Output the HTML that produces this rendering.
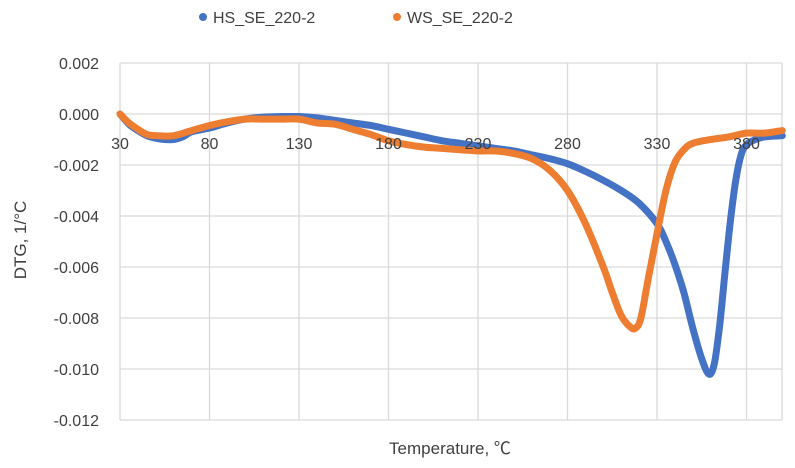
<!DOCTYPE html>
<html><head><meta charset="utf-8"><style>
body{margin:0;background:#fff;}
svg{display:block;font-family:"Liberation Sans","Noto Sans CJK SC",sans-serif;}
</style></head><body>
<svg id="chart" width="795" height="468">
<g id="grid"></g>
<g id="ylab"></g>
<g id="xlab"></g>
<g id="series"></g>
<g>
<circle cx="203" cy="17" r="4" fill="#4472C4"/>
<text x="213" y="23" font-size="16" fill="#404040">HS_SE_220-2</text>
<circle cx="397" cy="17" r="4" fill="#ED7D31"/>
<text x="407" y="23" font-size="16" fill="#404040">WS_SE_220-2</text>
</g>
<text transform="translate(26,240) rotate(-90)" text-anchor="middle" font-size="17" fill="#404040">DTG, 1/°C</text>
<text x="450" y="454" text-anchor="middle" font-size="17" fill="#404040">Temperature, ℃</text>
</svg>
<script>
const xTicks=[30,80,130,180,230,280,330,380];
const yTicks=[0.002,0,-0.002,-0.004,-0.006,-0.008,-0.010,-0.012];
const yTickLabels=["0.002","0.000","-0.002","-0.004","-0.006","-0.008","-0.010","-0.012"];
const hsTemp=[30,35,40,45,50,55,60,65,70,80,90,100,110,120,130,140,150,160,170,180,190,200,210,220,230,240,250,260,270,280,290,300,310,320,330,335,340,345,350,355,359,362,365,368,371,374,377,380,385,390,400];
const hsDTG=[0,-0.4,-0.65,-0.85,-0.95,-1.0,-1.0,-0.9,-0.7,-0.55,-0.35,-0.2,-0.12,-0.1,-0.1,-0.15,-0.25,-0.35,-0.45,-0.6,-0.75,-0.9,-1.05,-1.15,-1.25,-1.35,-1.45,-1.6,-1.75,-1.95,-2.25,-2.6,-3.0,-3.5,-4.3,-5.0,-5.9,-7.0,-8.4,-9.6,-10.2,-9.8,-8.3,-6.2,-4.2,-2.6,-1.6,-1.2,-1.0,-0.9,-0.85];
const wsTemp=[30,35,40,45,50,60,70,80,90,100,110,120,130,140,150,160,170,180,190,200,210,220,230,240,250,260,270,280,290,300,305,310,315,318,321,325,330,335,340,345,350,360,370,380,390,400];
const wsDTG=[0,-0.35,-0.6,-0.8,-0.85,-0.85,-0.65,-0.45,-0.3,-0.2,-0.2,-0.2,-0.2,-0.35,-0.4,-0.6,-0.8,-1.05,-1.2,-1.3,-1.35,-1.4,-1.45,-1.45,-1.55,-1.75,-2.2,-3.0,-4.3,-6.0,-7.0,-7.9,-8.35,-8.4,-8.0,-6.5,-4.7,-3.0,-1.9,-1.4,-1.15,-1.0,-0.9,-0.75,-0.75,-0.65];
const NS="http://www.w3.org/2000/svg";
const X=t=>120+(t-30)*89.5/50;
const Y=v=>114-v*1000*25.5;
const L=120,R=782;
const grid=document.getElementById('grid');
yTicks.forEach((v,i)=>{
 const l=document.createElementNS(NS,'line');
 
 
 l.setAttribute('x1',L);l.setAttribute('x2',R);l.setAttribute('y1',Y(v));l.setAttribute('y2',Y(v));
 l.setAttribute('stroke','#d9d9d9');l.setAttribute('stroke-width','1.3');grid.appendChild(l);
 const t=document.createElementNS(NS,'text');
 
 
 t.setAttribute('x',99);t.setAttribute('y',Y(v)+6);t.setAttribute('text-anchor','end');
 t.setAttribute('font-size','16');t.setAttribute('fill','#404040');t.textContent=yTickLabels[i];
 document.getElementById('ylab').appendChild(t);
});
xTicks.forEach(v=>{
 const l=document.createElementNS(NS,'line');
 
 
 l.setAttribute('x1',X(v));l.setAttribute('x2',X(v));l.setAttribute('y1',Y(0.002));l.setAttribute('y2',Y(-0.012));
 l.setAttribute('stroke','#d9d9d9');l.setAttribute('stroke-width','1.3');grid.appendChild(l);
});
const rl=document.createElementNS(NS,'line');


rl.setAttribute('x1',R);rl.setAttribute('x2',R);rl.setAttribute('y1',Y(0.002));rl.setAttribute('y2',Y(-0.012));
rl.setAttribute('stroke','#d9d9d9');rl.setAttribute('stroke-width','1.3');grid.appendChild(rl);
function draw(ts,vs,color,name){
 const pts=ts.map((t,i)=>[X(t),Y(vs[i]/1000)]);
 let d='M'+pts[0][0]+','+pts[0][1];
 for(let i=0;i<pts.length-1;i++){
  const p0=pts[Math.max(0,i-1)],p1=pts[i],p2=pts[i+1],p3=pts[Math.min(pts.length-1,i+2)];
  const c1x=p1[0]+(p2[0]-p0[0])/6,c1y=p1[1]+(p2[1]-p0[1])/6;
  const c2x=p2[0]-(p3[0]-p1[0])/6,c2y=p2[1]-(p3[1]-p1[1])/6;
  d+=' C'+c1x+','+c1y+' '+c2x+','+c2y+' '+p2[0]+','+p2[1];
 }
 const p=document.createElementNS(NS,'path');
 
 
 p.setAttribute('d',d);
 p.setAttribute('fill','none');p.setAttribute('stroke',color);p.setAttribute('stroke-width','7');
 p.setAttribute('stroke-linejoin','round');p.setAttribute('stroke-linecap','round');
 document.getElementById('series').appendChild(p);
}
draw(hsTemp,hsDTG,'#4472C4','series-hs');
draw(wsTemp,wsDTG,'#ED7D31','series-ws');
xTicks.forEach(v=>{
 const t=document.createElementNS(NS,'text');
 
 
 t.setAttribute('x',X(v));t.setAttribute('y',149);t.setAttribute('text-anchor','middle');
 t.setAttribute('font-size','16');t.setAttribute('fill','#404040');t.textContent=v;
 document.getElementById('chart').appendChild(t);
});
</script>
</body></html>
